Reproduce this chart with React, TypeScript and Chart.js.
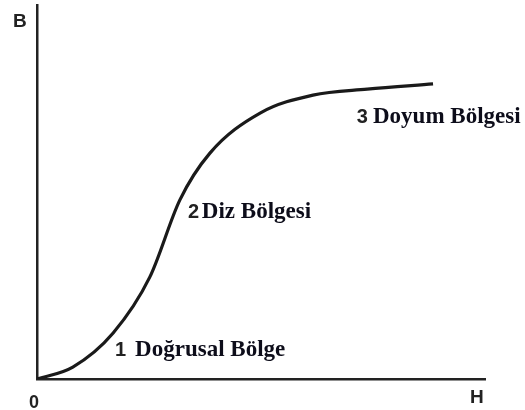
import React, { useEffect, useRef } from "react";
import { Chart, registerables } from "chart.js";

Chart.register(...registerables);

// Magnetizing force H (relative units) and flux density B (relative units)
const hValues = [0, 8, 17, 25.2, 31.9, 38.6, 49.8, 61.6, 73.7, 88.4];
const bValues = [0, 3.2, 12.3, 27.3, 47.9, 60.4, 71.1, 75.9, 77.5, 78.9];

// Region annotations: number, text, H anchor of number, H anchor of text, B baseline
const regionNumbers = ["1", "2", "3"];
const regionTexts = ["Doğrusal Bölge", "Diz Bölgesi", "Doyum Bölgesi"];
const regionNumH = [17.4, 33.7, 71.4];
const regionTextH = [21.9, 36.8, 75.0];
const regionB = [6.1, 43.0, 68.4];

const axisLabels = { y: "B", x: "H", origin: "0" };

export default function App() {
  const canvasRef = useRef<HTMLCanvasElement | null>(null);

  useEffect(() => {
    const canvas = canvasRef.current;
    if (!canvas) return;

    const labelPlugin = {
      id: "bhLabels",
      afterDraw(chart: any) {
        const ctx = chart.ctx;
        const xs = chart.scales.x;
        const ys = chart.scales.y;
        const area = chart.chartArea;
        ctx.save();
        ctx.textBaseline = "alphabetic";
        ctx.textAlign = "left";
        for (let i = 0; i < regionTexts.length; i++) {
          const base = ys.getPixelForValue(regionB[i]);
          ctx.font = "bold 20px 'Liberation Sans', sans-serif";
          ctx.fillStyle = "#222222";
          ctx.fillText(regionNumbers[i], xs.getPixelForValue(regionNumH[i]), base);
          ctx.font = "bold 23px 'Liberation Serif', serif";
          ctx.fillStyle = "#0d0d1a";
          ctx.fillText(regionTexts[i], xs.getPixelForValue(regionTextH[i]), base);
        }
        ctx.fillStyle = "#222222";
        ctx.font = "bold 19px 'Liberation Sans', sans-serif";
        ctx.fillText(axisLabels.y, area.left - 24, area.top + 22);
        ctx.fillText(axisLabels.x, area.right - 15, area.bottom + 24);
        ctx.font = "bold 18px 'Liberation Sans', sans-serif";
        ctx.fillText(axisLabels.origin, area.left - 8, area.bottom + 29);
        ctx.restore();
      },
    };

    const chart = new Chart(canvas, {
      type: "line",
      data: {
        datasets: [
          {
            data: hValues.map((h, i) => ({ x: h, y: bValues[i] })),
            borderColor: "#1a1a1a",
            borderWidth: 3.2,
            pointRadius: 0,
            cubicInterpolationMode: "monotone",
            fill: false,
          },
        ],
      },
      options: {
        animation: false,
        responsive: false,
        layout: { padding: { left: 37, right: 40, top: 5, bottom: 31 } },
        plugins: { legend: { display: false }, tooltip: { enabled: false } },
        scales: {
          x: {
            type: "linear",
            min: 0,
            max: 100,
            grid: { display: false, drawTicks: false },
            ticks: { display: false },
            border: { display: true, color: "#222222", width: 2.5 },
            afterFit: (s: any) => {
              s.height = 0;
            },
          },
          y: {
            type: "linear",
            min: 0,
            max: 100,
            grid: { display: false, drawTicks: false },
            ticks: { display: false },
            border: { display: true, color: "#222222", width: 2.5 },
            afterFit: (s: any) => {
              s.width = 0;
            },
          },
        },
      },
      plugins: [labelPlugin],
    } as any);

    return () => chart.destroy();
  }, []);

  return (
    <div style={{ position: "absolute", left: 0, top: 0, width: 525, height: 410, background: "#ffffff" }}>
      <canvas ref={canvasRef} width={525} height={410} style={{ display: "block" }} />
    </div>
  );
}
